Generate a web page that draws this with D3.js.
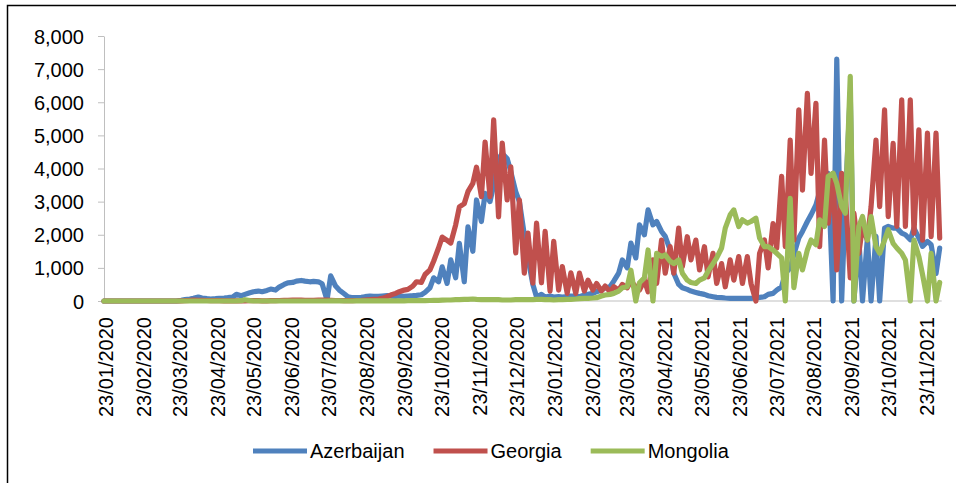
<!DOCTYPE html>
<html>
<head>
  <meta charset="utf-8">
  <title>Daily new cases: Azerbaijan, Georgia, Mongolia</title>
  <style>
    body { margin: 0; background: #fff; }
    text { font-family: "Liberation Sans", Arial, sans-serif; fill: #000; }
    .axis path, .axis line { stroke: #bfbfbf; }
    .axis text { font-size: 20px; fill: #000; }
    .date_label { font-size: 20px; }
    .legend text { font-size: 20px; }
    .series { fill: none; stroke-width: 5.2; stroke-linejoin: round; stroke-linecap: round; }
  </style>
</head>
<body>
  <svg id="canvas" width="956" height="483"></svg>
  <script src="https://d3js.org/d3.v7.min.js"></script>
  <script>
    // one reading every half week, starting 22/01/2020
    const start_date = new Date(2020, 0, 22);
    const end_date = new Date(2021, 11, 4);

    const azerbaijan = [
      0, 0, 0, 0, 0, 0, 0, 0, 0, 0,
      0, 0, 0, 0, 0, 0, 0, 0, 20, 40,
      60, 80, 120, 90, 70, 60, 70, 80, 90, 100,
      120, 200, 160, 200, 250, 280, 300, 280, 320, 360,
      330, 420, 500, 550, 560, 600, 620, 600, 580, 590,
      580, 520, 30, 760, 450, 330, 220, 130, 100, 100,
      110, 130, 150, 140, 140, 150, 160, 150, 140, 150,
      140, 150, 160, 170, 190, 260, 400, 700, 580, 1030,
      530, 1240, 700, 1740, 580, 2240, 1500, 3050, 2400, 3250,
      3000, 3500, 4300, 4450, 4300, 3900, 3300, 3000, 2000, 1300,
      500, 120, 200, 120, 150, 120, 130, 120, 130, 150,
      150, 130, 180, 200, 230, 280, 330, 400, 430, 600,
      840, 1240, 1000, 1750, 1300, 2300, 2000, 2750, 2300, 2400,
      2100, 1950, 1540, 840, 500, 400, 350, 300, 260, 230,
      200, 160, 130, 110, 100, 90, 80, 80, 80, 80,
      80, 80, 90, 110, 130, 200, 230, 330, 430, 840,
      1000, 1400, 1900, 2100, 2400, 2600, 2900, 3300, 3600, 3850,
      0, 7300, 0, 3000, 6300, 0, 1900, 0, 1900, 0,
      1950, 0, 2200, 2250, 2200, 2200, 2050, 2000, 1850, 2200,
      1900, 1650, 1800, 1700, 830, 1600
    ];

    const georgia = [
      0, 0, 0, 0, 0, 0, 0, 0, 0, 0,
      0, 0, 0, 0, 0, 0, 0, 0, 5, 10,
      20, 30, 20, 20, 15, 10, 10, 10, 5, 5,
      5, 5, 5, 5, 10, 10, 10, 5, 5, 10,
      10, 15, 20, 20, 30, 30, 25, 20, 20, 20,
      30, 30, 25, 20, 15, 15, 10, 10, 10, 15,
      20, 30, 40, 50, 60, 80, 130, 180, 230, 280,
      330, 350, 450, 580, 560, 800, 940, 1200, 1600, 1930,
      1830, 1750, 2300, 2840, 2940, 3300, 3550, 4040, 3150, 4800,
      3150, 5470, 2540, 4770, 3050, 4050, 1450, 3050, 840, 2050,
      540, 2350, 550, 2100, 300, 1800, 330, 1040, 230, 850,
      230, 840, 300, 630, 330, 530, 300, 450, 280, 430,
      330, 500, 400, 600, 430, 330, 630, 280, 1240, 530,
      1840, 840, 1640, 840, 2200, 1040, 1940, 1240, 1840, 940,
      1640, 730, 1440, 530, 1130, 430, 1240, 630, 1340, 530,
      1340, 530, 0, 1440, 1840, 1000, 2340, 1600, 3760, 1640,
      4860, 1840, 5770, 3350, 6270, 3850, 5970, 1640, 4860, 2350,
      3850, 940, 3850, 3250, 700, 2650, 1440, 2250, 1840, 2850,
      4860, 2850, 5770, 2550, 4760, 2250, 6070, 2250, 6070, 2050,
      5170, 1840, 5070, 1940, 5070, 1900
    ];

    const mongolia = [
      0, 0, 0, 0, 0, 0, 0, 0, 0, 0,
      0, 0, 0, 0, 0, 0, 0, 0, 0, 0,
      0, 0, 0, 0, 0, 0, 0, 0, 0, 0,
      0, 0, 10, 40, 10, 0, 0, 0, 0, 0,
      0, 0, 0, 0, 0, 0, 0, 0, 0, 0,
      0, 0, 0, 5, 5, 5, 0, 0, 0, 5,
      5, 5, 5, 5, 5, 5, 5, 5, 5, 5,
      5, 10, 10, 10, 10, 10, 15, 20, 20, 25,
      30, 30, 40, 40, 50, 50, 60, 50, 40, 40,
      40, 40, 40, 30, 30, 30, 40, 40, 40, 40,
      40, 50, 50, 40, 40, 30, 40, 40, 50, 50,
      60, 70, 80, 80, 90, 100, 150, 180, 200, 230,
      300, 400, 430, 930, 0, 550, 700, 1540, 0, 1440,
      1340, 1390, 1200, 1130, 1240, 840, 630, 560, 530, 630,
      700, 900, 1130, 1300, 1600, 2200, 2600, 2750, 2250, 2450,
      2350, 2400, 2500, 1900, 1640, 1640, 1540, 1440, 1300, 0,
      3100, 400, 1440, 940, 1540, 1840, 1700, 2450, 2250, 3760,
      3860, 3550, 2850, 2650, 6780, 0, 2250, 2550, 1840, 2550,
      1640, 1440, 1840, 2150, 1740, 1600, 1440, 1240, 0, 1840,
      1340, 800, 0, 1440, 0, 560
    ];

    const series_names = ["Azerbaijan", "Georgia", "Mongolia"];
    const series_colors = ["#4f81bd", "#c0504d", "#9bbb59"];
    const series_values = [azerbaijan, georgia, mongolia];

    const date_labels = [
      "23/01/2020", "23/02/2020", "23/03/2020", "23/04/2020", "23/05/2020", "23/06/2020",
      "23/07/2020", "23/08/2020", "23/09/2020", "23/10/2020", "23/11/2020", "23/12/2020",
      "23/01/2021", "23/02/2021", "23/03/2021", "23/04/2021", "23/05/2021", "23/06/2021",
      "23/07/2021", "23/08/2021", "23/09/2021", "23/10/2021", "23/11/2021"
    ];
    const y_ticks = [0, 1000, 2000, 3000, 4000, 5000, 6000, 7000, 8000];

    const dates = azerbaijan.map((_, i) => d3.timeDay.offset(start_date, Math.floor(i * 3.5)));
    const parse_label = d3.timeParse("%d/%m/%Y");

    const dims = { left: 104, right: 939.7, top: 36, bottom: 301, label_top: 317, legend_y: 451 };

    const svg = d3.select("svg#canvas");

    // outer frame
    svg.append("rect")
      .attr("x", 7.5).attr("y", 5.5)
      .attr("width", 1000).attr("height", 600)
      .attr("fill", "none").attr("stroke", "#000").attr("stroke-width", 1.5);

    const x = d3.scaleTime().domain([start_date, end_date]).range([dims.left, dims.right]);
    const y = d3.scaleLinear().domain([0, 8000]).range([dims.bottom, dims.top]);

    const y_axis = svg.append("g")
      .attr("class", "axis")
      .attr("transform", "translate(" + dims.left + ",0)")
      .call(d3.axisLeft(y).tickValues(y_ticks).tickFormat(d3.format(",")).tickSize(6).tickSizeOuter(0).tickPadding(14));
    y_axis.selectAll("text").attr("dy", "0.35em");

    // x axis baseline
    svg.append("line")
      .attr("x1", dims.left).attr("x2", dims.right + 2)
      .attr("y1", y(0)).attr("y2", y(0))
      .attr("stroke", "#bfbfbf");

    svg.append("g")
      .selectAll(".date_label")
      .data(date_labels)
      .enter().append("text")
      .attr("class", "date_label")
      .attr("text-anchor", "end")
      .attr("dy", "0.35em")
      .attr("transform", d => "translate(" + (x(parse_label(d)) + 1) + "," + dims.label_top + ")rotate(-90)")
      .text(d => d);

    const line = d3.line()
      .x((_, i) => x(dates[i]))
      .y(v => y(v));

    svg.append("g")
      .selectAll(".series")
      .data(series_values)
      .enter().append("path")
      .attr("class", "series")
      .attr("stroke", (_, i) => series_colors[i])
      .attr("d", v => line(v));

    // legend, laid out left to right
    const legend = svg.append("g").attr("class", "legend");
    let lx = 253;
    series_names.forEach((name, i) => {
      legend.append("line")
        .attr("x1", lx).attr("x2", lx + 54)
        .attr("y1", dims.legend_y).attr("y2", dims.legend_y)
        .attr("stroke", series_colors[i]).attr("stroke-width", 5);
      const t = legend.append("text")
        .attr("x", lx + 57)
        .attr("y", dims.legend_y)
        .attr("dy", "0.35em")
        .text(name);
      lx += 57 + t.node().getComputedTextLength() + 29;
    });
  </script>
</body>
</html>
